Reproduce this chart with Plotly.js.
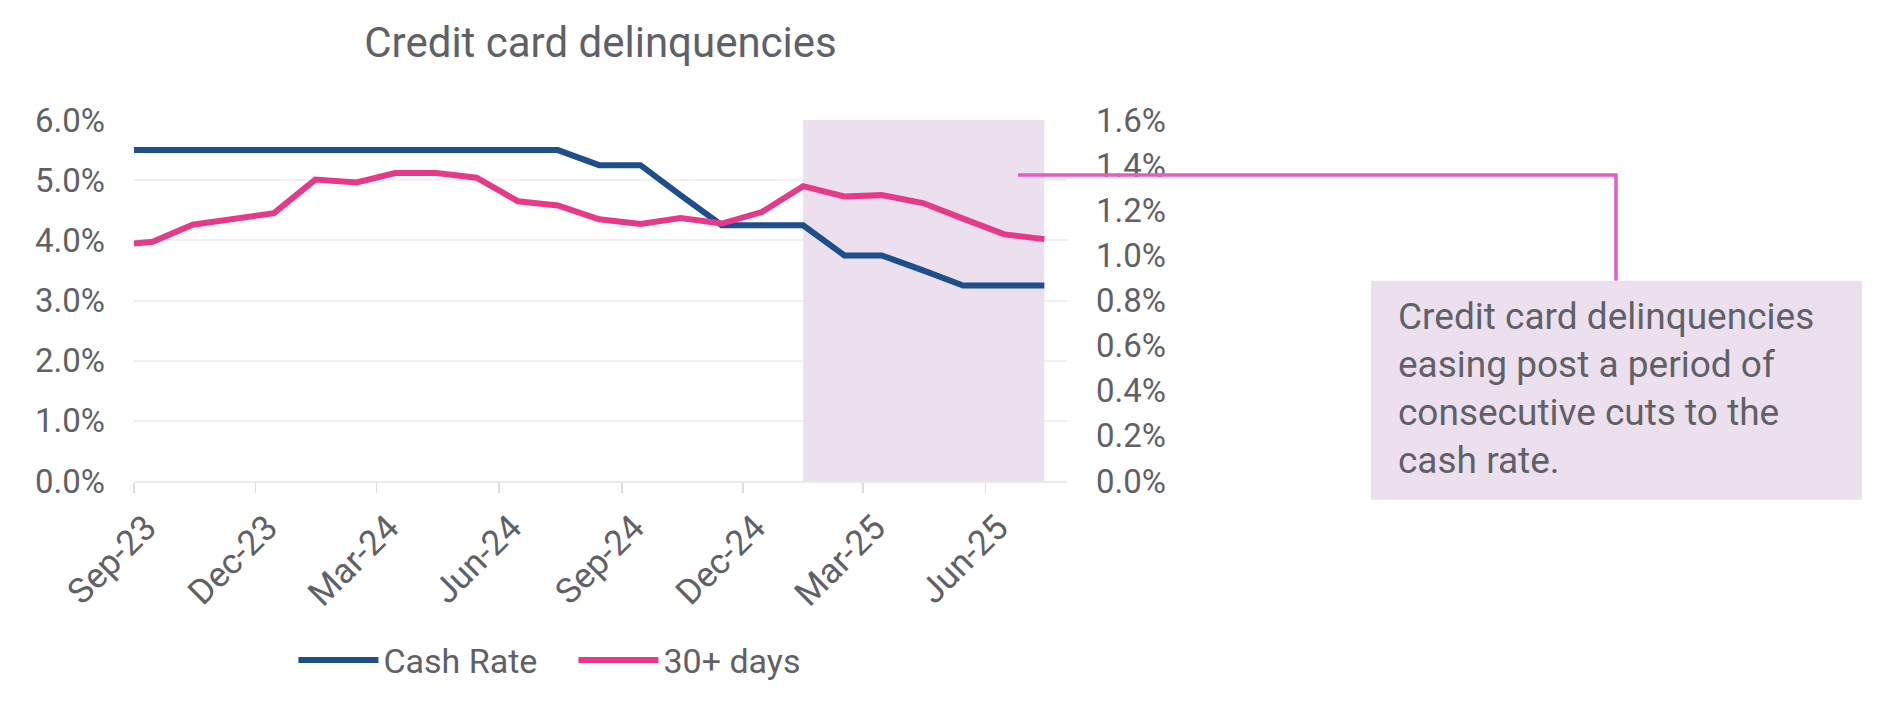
<!DOCTYPE html>
<html>
<head>
<meta charset="utf-8">
<script src="https://cdn.plot.ly/plotly-3.0.1.min.js"></script>
<style>
  html, body { margin: 0; padding: 0; background: #ffffff; }
  #graph { width: 1887px; height: 701px; }
</style>
</head>
<body>
<div id="graph"></div>
<script>
// monthly readings, plotted mid-month (first point sits on the axis start)
var months = ['2023-09-01', '2023-09-15', '2023-10-15', '2023-11-15', '2023-12-15',
  '2024-01-15', '2024-02-15', '2024-03-15', '2024-04-15', '2024-05-15', '2024-06-15',
  '2024-07-15', '2024-08-15', '2024-09-15', '2024-10-15', '2024-11-15', '2024-12-15',
  '2025-01-15', '2025-02-15', '2025-03-15', '2025-04-15', '2025-05-15', '2025-06-15',
  '2025-07-15'];

var cashRate = [5.5, 5.5, 5.5, 5.5, 5.5, 5.5, 5.5, 5.5, 5.5, 5.5, 5.5, 5.5,
  5.25, 5.25, 4.75, 4.25, 4.25, 4.25, 3.75, 3.75, 3.5, 3.25, 3.25, 3.25];

var days30 = [1.053, 1.06, 1.136, 1.16, 1.187, 1.336, 1.323, 1.365, 1.365, 1.344, 1.24, 1.221,
  1.16, 1.139, 1.165, 1.141, 1.192, 1.307, 1.261, 1.267, 1.232, 1.163, 1.093, 1.072];

var tickDates = ['2023-09-01', '2023-12-01', '2024-03-01', '2024-06-01',
  '2024-09-01', '2024-12-01', '2025-03-01', '2025-06-01'];
var tickLabels = ['Sep-23', 'Dec-23', 'Mar-24', 'Jun-24', 'Sep-24', 'Dec-24', 'Mar-25', 'Jun-25'];

var shadeFrom = '2025-01-15';
var shadeTo = '2025-07-15';

var noteText = 'Credit card delinquencies<br>easing post a period of<br>consecutive cuts to the<br>cash rate.';

var textColor = '#5f6166';
var blue = '#1f4e8d';
var pink = '#e7398a';
var orchid = '#e85bc4';
var shade = '#ede0ee';

var trace1 = {
  x: months,
  y: cashRate,
  name: 'Cash Rate',
  type: 'scatter',
  mode: 'lines',
  line: { color: blue, width: 6 },
  hoverinfo: 'skip'
};
var trace2 = {
  x: months,
  y: days30,
  name: '30+ days',
  yaxis: 'y2',
  type: 'scatter',
  mode: 'lines',
  line: { color: pink, width: 6 },
  hoverinfo: 'skip'
};
var data = [trace1, trace2];

var layout = {
  width: 1887,
  height: 701,
  margin: { l: 134, r: 820, t: 120, b: 215 },
  paper_bgcolor: '#ffffff',
  plot_bgcolor: '#ffffff',
  font: { family: 'Roboto, sans-serif', color: textColor, size: 33 },
  title: {
    text: 'Credit card delinquencies',
    font: { size: 42, color: textColor },
    xref: 'paper', x: 0.5, xanchor: 'center',
    yref: 'container', y: 1 - 42 / 701, yanchor: 'middle'
  },
  xaxis: {
    type: 'date',
    range: ['2023-09-01', '2025-08-01'],
    tickvals: tickDates,
    ticktext: tickLabels,
    tickangle: -45,
    ticklabelshift: 12,
    ticklabelstandoff: 0,
    showgrid: false,
    zeroline: false,
    showline: true,
    linecolor: '#ebebeb',
    linewidth: 2,
    ticks: 'outside',
    ticklen: 10,
    tickwidth: 1.5,
    tickcolor: '#dedede',
    tickfont: { size: 35, color: textColor },
    fixedrange: true
  },
  yaxis: {
    range: [0, 6],
    dtick: 1,
    tickformat: '.1f',
    ticksuffix: '%',
    showgrid: true,
    gridcolor: '#f0f0f0',
    gridwidth: 2,
    zeroline: false,
    showline: false,
    ticklabelstandoff: 28,
    tickfont: { size: 33, color: textColor },
    fixedrange: true
  },
  yaxis2: {
    overlaying: 'y',
    side: 'right',
    range: [0, 1.6],
    dtick: 0.2,
    tickformat: '.1f',
    ticksuffix: '%',
    showgrid: false,
    zeroline: false,
    showline: false,
    ticklabelstandoff: 28,
    tickfont: { size: 33, color: textColor },
    fixedrange: true
  },
  shapes: [
    {
      type: 'rect', layer: 'between',
      xref: 'x', yref: 'y',
      x0: shadeFrom, x1: shadeTo, y0: 0, y1: 6,
      fillcolor: shade, line: { width: 0 }
    },
    {
      type: 'path', layer: 'above',
      xref: 'paper', yref: 'paper',
      path: 'M 0.9475,0.8478 L 1.5884,0.8478 L 1.5884,0.5546',
      line: { color: orchid, width: 3.5 }
    },
    {
      type: 'rect', layer: 'above',
      xref: 'paper', yref: 'paper',
      x0: 1.3258, x1: 1.8520, y0: -0.052, y1: 0.5546,
      fillcolor: shade, line: { width: 0 }
    }
  ],
  annotations: [
    {
      xref: 'paper', yref: 'paper',
      x: 1.3540, y: 0.2568,
      xanchor: 'left', yanchor: 'middle',
      text: noteText,
      showarrow: false,
      align: 'left',
      borderpad: 0,
      font: { size: 37, color: textColor }
    }
  ],
  showlegend: true,
  legend: {
    orientation: 'h',
    x: 0.471, xanchor: 'center',
    y: -0.497, yanchor: 'middle',
    font: { size: 34, color: textColor },
    itemwidth: 80,
    entrywidth: 185,
    entrywidthmode: 'pixels',
    bgcolor: 'rgba(0,0,0,0)'
  }
};

var config = {
  displayModeBar: false,
  staticPlot: true
};

Plotly.newPlot('graph', data, layout, config);
</script>
</body>
</html>
